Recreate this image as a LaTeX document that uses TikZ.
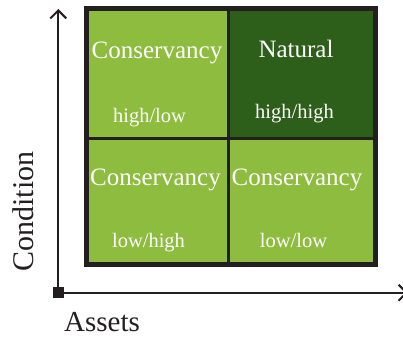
\documentclass[tikz,border=0pt]{standalone}
\usepackage{fontspec}
\setmainfont{Liberation Serif}
\usetikzlibrary{arrows.meta}
\definecolor{lightgr}{RGB}{141,188,62}
\definecolor{darkgr}{RGB}{45,94,26}
\definecolor{ink}{RGB}{35,31,32}
\begin{document}
\begin{tikzpicture}[x=1pt,y=-1pt,
 big/.style={text=white,font=\fontsize{25}{25}\selectfont,anchor=base,inner sep=0},
 small/.style={text=white,font=\fontsize{20.5}{20.5}\selectfont,anchor=base,inner sep=0},
 axislabel/.style={text=ink,anchor=base,inner sep=0},
 axis/.style={ink,line width=2pt,-{Straight Barb[length=8pt,width=16pt]}}]
\useasboundingbox (0,0) rectangle (403,337);
\begin{scope}
\clip (0,0) rectangle (403,337);
% cells
\fill[lightgr] (86,8.2) rectangle (375,264.5);
\fill[darkgr] (228.5,8.2) rectangle (375,138.3);
\draw[ink,line width=3pt] (228.5,8.2) -- (228.5,264.5) (86,138.3) -- (375,138.3);
\draw[ink,line width=5pt] (86,8.2) rectangle (375,264.5);
% axes
\node[fill=ink,minimum size=10.6pt,inner sep=0] (orig) at (58.3,292.7) {};
\coordinate (ytip) at (58.3,9);
\coordinate (xtip) at (408,292.7);
\draw[axis] (orig.center) -- (ytip);
\draw[axis] (orig.center) -- (xtip);
\end{scope}
% texts
\node[big] (tl) at (157,58) {Conservancy};
\node[small] (tls) at (149.5,122) {high/low};
\node[big] (tr) at (296,57.5) {Natural};
\node[small] (trs) at (294.5,118) {high/high};
\node[big] (bl) at (155.5,185) {Conservancy};
\node[small] (bls) at (148.5,247) {low/high};
\node[big] (br) at (297,185) {Conservancy};
\node[small] (brs) at (293.5,247) {low/low};
\node[axislabel,font=\fontsize{29}{29}\selectfont] (xl) at (102,331.7) {Assets};
\node[axislabel,font=\fontsize{30}{30}\selectfont,rotate=90] (yl) at (33,211.5) {Condition};
\end{tikzpicture}
\end{document}
